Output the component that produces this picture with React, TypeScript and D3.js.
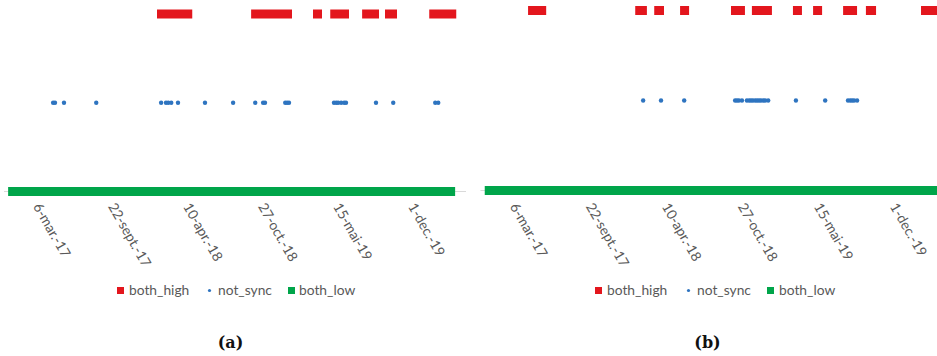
import React from "react";
import * as d3 from "d3";

// Excel serial day numbers on the x axis
const X_DOMAIN = [42717, 43949];
const TICK_VALUES = [42800, 43000, 43200, 43400, 43600, 43800];
const TICK_LABELS = ["6-mar.-17", "22-sept.-17", "10-apr.-18", "27-oct.-18", "15-mai-19", "1-dec.-19"];

const SERIES_NAMES = ["both_high", "not_sync", "both_low"];
const SERIES_LEVELS = [1, 0.5, 0];
const SERIES_COLORS = ["#e3161d", "#2e74c0", "#00a54a"];

// panel (a)
const HIGH_A = [
  [43137, 43207], [43388, 43473], [43553, 43553], [43599, 43625],
  [43684, 43705], [43745, 43753], [43863, 43911],
];
const NOT_SYNC_A = [
  42848, 42853, 42877, 42963, 43136, 43149, 43155, 43163, 43181, 43253,
  43328, 43387, 43408, 43413, 43467, 43472, 43477, 43597, 43603, 43608,
  43616, 43624, 43629, 43709, 43755, 43867, 43875,
];
const LOW_A = [[42740, 43908]];

// panel (b)
const HIGH_B = [
  [42854, 42878], [43136, 43143], [43186, 43188], [43254, 43254],
  [43388, 43401], [43443, 43472], [43551, 43551], [43604, 43604],
  [43683, 43696], [43743, 43746], [43888, 43911],
];
const NOT_SYNC_B = [
  43145, 43192, 43253, 43387, 43392, 43397, 43405, 43418, 43424, 43429,
  43434, 43440, 43445, 43450, 43455, 43461, 43466, 43474, 43547, 43624,
  43684, 43690, 43695, 43700, 43708,
];
const LOW_B = [[42740, 43908]];

const CAPTIONS = ["(a)", "(b)"];

const FONT = "Lato, 'Open Sans', sans-serif";
const TEXT_GRAY = "#595959";

type PanelProps = {
  high: number[][];
  notSync: number[];
  low: number[][];
  xRange: [number, number];
  yRange: [number, number];
  legendX: number[];
  caption: string;
  captionX: number;
};

function Panel({ high, notSync, low, xRange, yRange, legendX, caption, captionX }: PanelProps) {
  const x = d3.scaleLinear().domain(X_DOMAIN).range(xRange);
  const y = d3.scaleLinear().domain([0, 1]).range(yRange);
  const half = 4.5;
  const yHigh = y(SERIES_LEVELS[0]);
  const yMid = y(SERIES_LEVELS[1]);
  const yLow = y(SERIES_LEVELS[2]);
  return (
    <g>
      {/* axis line */}
      <line x1={xRange[0]} x2={xRange[1]} y1={yLow} y2={yLow} stroke="#d9d9d9" strokeWidth={1.2} />
      {/* both_low */}
      {low.map((d, i) => (
        <rect key={"l" + i} x={x(d[0]) - half} y={yLow - half} width={x(d[1]) - x(d[0]) + 2 * half}
          height={2 * half} fill={SERIES_COLORS[2]} />
      ))}
      {/* both_high */}
      {high.map((d, i) => (
        <rect key={"h" + i} x={x(d[0]) - half} y={yHigh - half} width={x(d[1]) - x(d[0]) + 2 * half}
          height={2 * half} fill={SERIES_COLORS[0]} />
      ))}
      {/* not_sync */}
      {notSync.map((d, i) => (
        <circle key={"n" + i} cx={x(d)} cy={yMid} r={2.2} fill={SERIES_COLORS[1]} />
      ))}
      {/* tick labels */}
      {TICK_VALUES.map((v, i) => (
        <text key={"t" + i} transform={`translate(${x(v) - 2.5},${206.5}) rotate(60)`}
          fontFamily={FONT} fontSize={13.8} fill={TEXT_GRAY}>
          {TICK_LABELS[i]}
        </text>
      ))}
      {/* legend */}
      <rect x={legendX[0]} y={287} width={7} height={7} fill={SERIES_COLORS[0]} />
      <text x={legendX[1]} y={294.5} fontFamily={FONT} fontSize={13.8} fill={TEXT_GRAY}>{SERIES_NAMES[0]}</text>
      <circle cx={legendX[2]} cy={290.5} r={1.6} fill={SERIES_COLORS[1]} />
      <text x={legendX[3]} y={294.5} fontFamily={FONT} fontSize={13.8} fill={TEXT_GRAY}>{SERIES_NAMES[1]}</text>
      <rect x={legendX[4]} y={287} width={7} height={7} fill={SERIES_COLORS[2]} />
      <text x={legendX[5]} y={294.5} fontFamily={FONT} fontSize={13.8} fill={TEXT_GRAY}>{SERIES_NAMES[2]}</text>
      {/* caption */}
      <text x={captionX} y={348} textAnchor="middle" fontFamily="'DejaVu Serif', serif" fontWeight="bold"
        fontSize={16} fill="#111">{caption}</text>
    </g>
  );
}

export default function App() {
  return (
    <svg width={937} height={356} style={{ position: "absolute", left: 0, top: 0, display: "block", background: "#fff" }}>
      <rect width={937} height={356} fill="#fff" />
      <Panel high={HIGH_A} notSync={NOT_SYNC_A} low={LOW_A} xRange={[4, 466]} yRange={[191.5, 14]}
        legendX={[117, 129, 209.5, 218, 288, 299]} caption={CAPTIONS[0]} captionX={230.5} />
      <Panel high={HIGH_B} notSync={NOT_SYNC_B} low={LOW_B} xRange={[480.5, 948.7]} yRange={[190.5, 10.5]}
        legendX={[595, 607, 688.5, 697, 767, 779]} caption={CAPTIONS[1]} captionX={707.5} />
    </svg>
  );
}
